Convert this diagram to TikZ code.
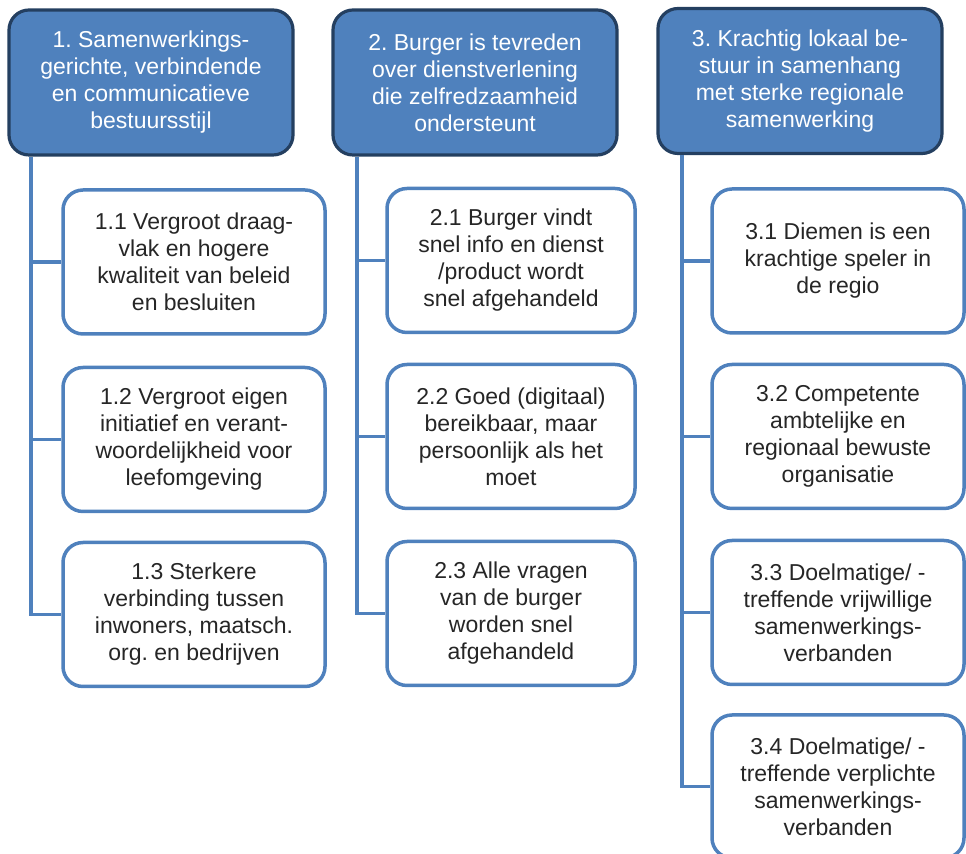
\documentclass[tikz,border=0pt]{standalone}
\usepackage{fontspec}
\setmainfont{Liberation Sans}
\usepackage{xcolor}
\usetikzlibrary{calc}
\frenchspacing

\definecolor{headfill}{HTML}{4F81BD}
\definecolor{headline}{HTML}{243F60}
\definecolor{goalline}{HTML}{4F81BD}
\definecolor{goaltext}{HTML}{262626}

\tikzset{
  head/.style={draw=headline, fill=headfill, line width=1.6pt, rounded corners=10pt,
    text=white, align=center, minimum width=142pt, minimum height=72.5pt, inner sep=0pt,
    font=\fontsize{11.5pt}{13.5pt}\selectfont},
  goal/.style={draw=goalline, fill=white, line width=1.75pt, rounded corners=10pt,
    text=goaltext, align=center, minimum height=72pt, inner sep=0pt,
    font=\fontsize{11.5pt}{13.5pt}\selectfont},
  link/.style={draw=goalline, line width=1.75pt},
}

\begin{document}
\begin{tikzpicture}[x=0.5pt, y=-0.5pt]
        \useasboundingbox (0,0) rectangle (966,854);
        \clip (0,0) rectangle (966,854);

        % hoofddoelen
        \node[head] (h1) at (151,82.5) {1. Samenwerkings-\\gerichte, verbindende\\en communicatieve\\bestuursstijl};
        \node[head] (h2) at (475,82.5) {2. Burger is tevreden\\over dienstverlening\\die zelfredzaamheid\\ondersteunt};
        \node[head] (h3) at (800,81) {3. Krachtig lokaal be-\\stuur in samenhang\\met sterke regionale\\samenwerking};

        % subdoelen
        \begin{scope}[goal/.append style={minimum width=131pt}]
          \node[goal] (g11) at (194,262) {1.1 Vergroot draag-\\vlak en hogere\\kwaliteit van beleid\\en besluiten};
          \node[goal] (g12) at (194,439.5) {1.2 Vergroot eigen\\initiatief en verant-\\woordelijkheid voor\\leefomgeving};
          \node[goal] (g13) at (194,614.5) {1.3 Sterkere\\verbinding tussen\\inwoners, maatsch.\\org. en bedrijven};
        \end{scope}
        \begin{scope}[goal/.append style={minimum width=124pt}]
          \node[goal] (g21) at (511,260.5) {2.1 Burger vindt\\snel info en dienst\\/product wordt\\snel afgehandeld};
          \node[goal] (g22) at (511,436.5) {2.2 Goed (digitaal)\\bereikbaar, maar\\persoonlijk als het\\moet};
          \node[goal] (g23) at (511,613.5) {2.3 Alle vragen\\van de burger\\worden snel\\afgehandeld};
        \end{scope}
        \begin{scope}[goal/.append style={minimum width=126pt}]
          \node[goal] (g31) at (838,261) {3.1 Diemen is een\\krachtige speler in\\de regio};
          \node[goal] (g32) at (838,436.5) {3.2 Competente\\ambtelijke en\\regionaal bewuste\\organisatie};
          \node[goal] (g33) at (838,612.5) {3.3 Doelmatige/ -\\treffende vrijwillige\\samenwerkings-\\verbanden};
          \node[goal, minimum height=71.5pt] (g34) at (838,786.5) {3.4 Doelmatige/ -\\treffende verplichte\\samenwerkings-\\verbanden};
        \end{scope}

        % stammen
        \coordinate (t1) at (31,0);
        \coordinate (t2) at (357,0);
        \coordinate (t3) at (682,0);

        \path[link] (h1.south -| t1) |- (g13.west);
        \path[link] (t1 |- g11.west) -- (g11.west);
        \path[link] (t1 |- g12.west) -- (g12.west);

        \path[link] (h2.south -| t2) |- (g23.west);
        \path[link] (t2 |- g21.west) -- (g21.west);
        \path[link] (t2 |- g22.west) -- (g22.west);

        \path[link] (h3.south -| t3) |- (g34.west);
        \path[link] (t3 |- g31.west) -- (g31.west);
        \path[link] (t3 |- g32.west) -- (g32.west);
        \path[link] (t3 |- g33.west) -- (g33.west);
      \end{tikzpicture}
\end{document}
